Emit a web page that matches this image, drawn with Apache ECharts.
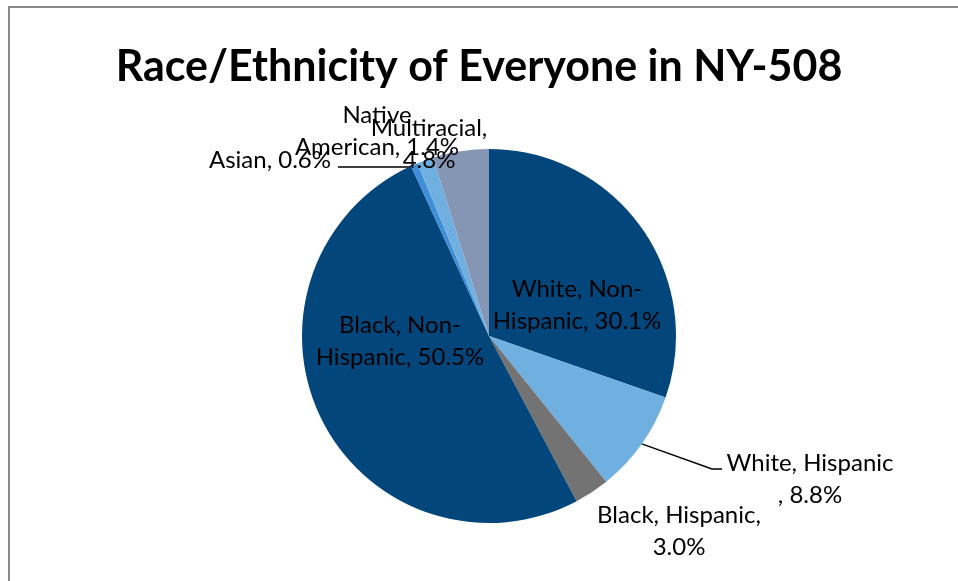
<!DOCTYPE html>
<html>
<head>
<meta charset="utf-8">
<style>
  html, body { margin: 0; padding: 0; background: #ffffff; }
  #chart { width: 958px; height: 581px; }
</style>
<script src="https://cdn.jsdelivr.net/npm/echarts@6/dist/echarts.min.js"></script>
</head>
<body>
<div id="chart"></div>
<script>
// Group names as they are set in the labels (line breaks included)
const categories = [
  'White, Non-\nHispanic',
  'White, Hispanic',
  'Black, Hispanic',
  'Black, Non-\nHispanic',
  'Asian',
  'Native\nAmerican',
  'Multiracial'
];
// Share of everyone, percent
const shares = [30.1, 8.8, 3.0, 50.5, 0.6, 1.4, 4.8];
// Text placed between name and value in each label
const separators = [', ', '\n, ', ',\n', ', ', ', ', ', ', ',\n'];
const colors = ['#03467c', '#70b0e1', '#737373', '#03467c', '#3f8fd8', '#70b0e1', '#8496b4'];

// Label anchor (text centre) and leader-line styling per slice
const labelCenters = [
  [577, 305], [810, 479], [679, 531], [400, 341], [270, 160], [377, 131], [429, 144]
];
const leaderEnds = { 1: 722, 4: 338 }; // x where the leader meets the text

const chart = echarts.init(document.getElementById('chart'), null, { renderer: 'canvas' });

const pieData = categories.map((name, i) => ({
  name,
  value: shares[i],
  itemStyle: { color: colors[i] },
  labelLine: { show: leaderEnds[i] !== undefined }
}));

chart.setOption({
  animation: false,
  backgroundColor: '#ffffff',
  title: {
    text: 'Race/Ethnicity of Everyone in NY-508',
    left: 'center',
    top: 41,
    textStyle: {
      fontFamily: 'Lato',
      fontWeight: 'bold',
      fontSize: 43,
      color: '#000000'
    }
  },
  graphic: [{
    type: 'rect',
    silent: true,
    shape: { x: 9, y: 7, width: 1200, height: 1200 },
    style: { fill: 'none', stroke: '#8a8a8a', lineWidth: 2 }
  }],
  series: [{
    type: 'pie',
    center: [489, 336],
    radius: 187,
    startAngle: 90,
    clockwise: true,
    avoidLabelOverlap: false,
    data: pieData,
    itemStyle: { borderWidth: 0 },
    emphasis: { disabled: true },
    label: {
      show: true,
      position: 'outside',
      fontFamily: 'Lato',
      fontSize: 24,
      lineHeight: 32,
      color: '#000000',
      align: 'center',
      formatter: p => p.name + separators[p.dataIndex] + p.value.toFixed(1) + '%'
    },
    labelLine: {
      show: true,
      lineStyle: { color: '#000000', width: 1.4 }
    },
    labelLayout: params => {
      const i = params.dataIndex;
      const c = labelCenters[i];
      const out = { x: c[0], y: c[1], align: 'center', verticalAlign: 'middle' };
      if (leaderEnds[i] !== undefined && params.labelLinePoints) {
        const p0 = params.labelLinePoints[0];
        if (i === 1) {
          const ly = 469;
          out.labelLinePoints = [p0, [leaderEnds[i] - 10, ly], [leaderEnds[i], ly]];
        } else {
          out.labelLinePoints = [p0, [p0[0] - 5, 167], [leaderEnds[i], 167]];
        }
      }
      return out;
    }
  }]
});
</script>
</body>
</html>
